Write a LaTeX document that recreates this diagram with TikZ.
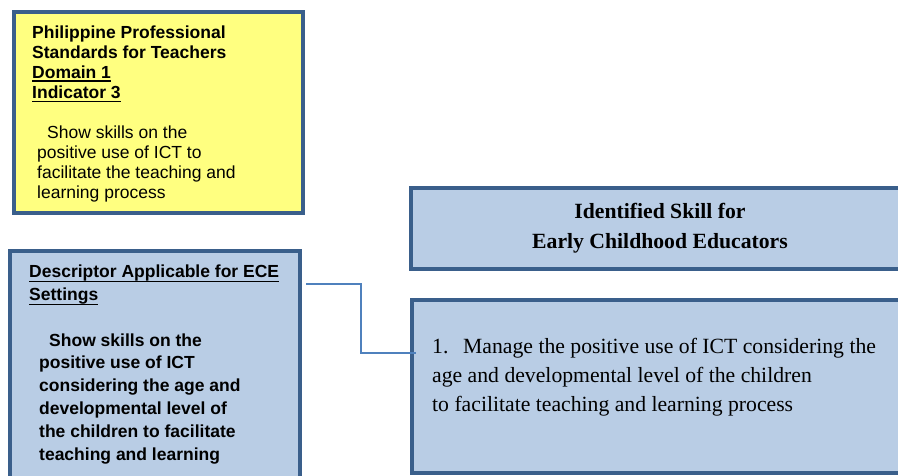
\documentclass[tikz,border=0pt]{standalone}
\usepackage{fontspec}
\setmainfont{Liberation Serif}
\newfontfamily\arialfont{Liberation Sans}
\usetikzlibrary{calc}

\definecolor{boxline}{HTML}{3A5F8B}
\definecolor{boxblue}{HTML}{B9CDE5}
\definecolor{boxyellow}{HTML}{FFFF80}
\definecolor{linkblue}{HTML}{4F81BD}

% underline set at a fixed depth below the baseline
\newcommand\ulx[2][3pt]{\setbox0\hbox{#2}\rlap{\rule[-#1]{\wd0}{1.3pt}}\box0}
% stacked lines whose baseline is the first line's baseline
\newcommand\lineset[2]{\begin{tabular}[t]{@{}#1@{}}#2\end{tabular}}

\begin{document}
\begin{tikzpicture}[x=1pt,y=-1pt,
  panel/.style={draw=boxline, line width=4pt, inner sep=0pt, anchor=north west},
  sanslines/.style={inner sep=0pt, anchor=base west,
    font=\arialfont\fontsize{17.5}{#1}\selectfont},
  seriflines/.style={inner sep=0pt,
    font=\fontsize{21.7}{#1}\selectfont},
  conn/.style={draw=linkblue, line width=1.3pt}]
\clip (0,0) rectangle (898,475);
\fill[white] (0,0) rectangle (898,475);

% standards panel
\node[panel, fill=boxyellow, minimum width=289pt, minimum height=201pt] (ppst) at (12,10) {};
\node[sanslines=20.3] (ppsthead) at (32,38) {\bfseries\lineset{l}{%
  Philippine Professional\\
  Standards for Teachers\\
  \ulx[3pt]{Domain 1}\\
  \ulx[3pt]{Indicator 3}}};
\node[sanslines=20] (ppstbody) at (37,138) {\lineset{l}{%
  \hspace{10pt}Show skills on the\\
  positive use of ICT to\\
  facilitate the teaching and\\
  learning process}};

% descriptor panel
\node[panel, fill=boxblue, minimum width=290pt, minimum height=240pt] (desc) at (8,249) {};
\node[sanslines=23] (deschead) at (29,277) {\bfseries\lineset{l}{%
  \ulx[5pt]{Descriptor Applicable for ECE}\\
  \ulx[5pt]{Settings}}};
\node[sanslines=22.8] (descbody) at (39,346) {\bfseries\lineset{l}{%
  \hspace{10pt}Show skills on the\\
  positive use of ICT\\
  considering the age and\\
  developmental level of\\
  the children to facilitate\\
  teaching and learning}};

% identified skill title panel
\node[panel, fill=boxblue, minimum width=498pt, minimum height=81pt] (title) at (409,186) {};
\node[seriflines=30, anchor=base] (titletext) at (660,218) {\bfseries\lineset{c}{%
  Identified Skill for\\
  Early Childhood Educators}};

% identified skill panel
\node[panel, fill=boxblue, minimum width=497pt, minimum height=173pt] (skill) at (410,298) {};
\node[seriflines=29, anchor=base west] (skilltext) at (432,353) {\lineset{l}{%
  \makebox[31pt][l]{1.}Manage the positive use of ICT considering the\\
  age and developmental level of the children\\
  to facilitate teaching and learning process}};

% elbow connector from descriptor to skill
\coordinate (cA) at ($(desc.north east)+(4,35)$);
\coordinate (cB) at ($(skill.north west)+(6,55)$);
\draw[conn] (cA) -| ($(cA)!0.5!(cB)$) |- (cB);
\end{tikzpicture}
\end{document}
